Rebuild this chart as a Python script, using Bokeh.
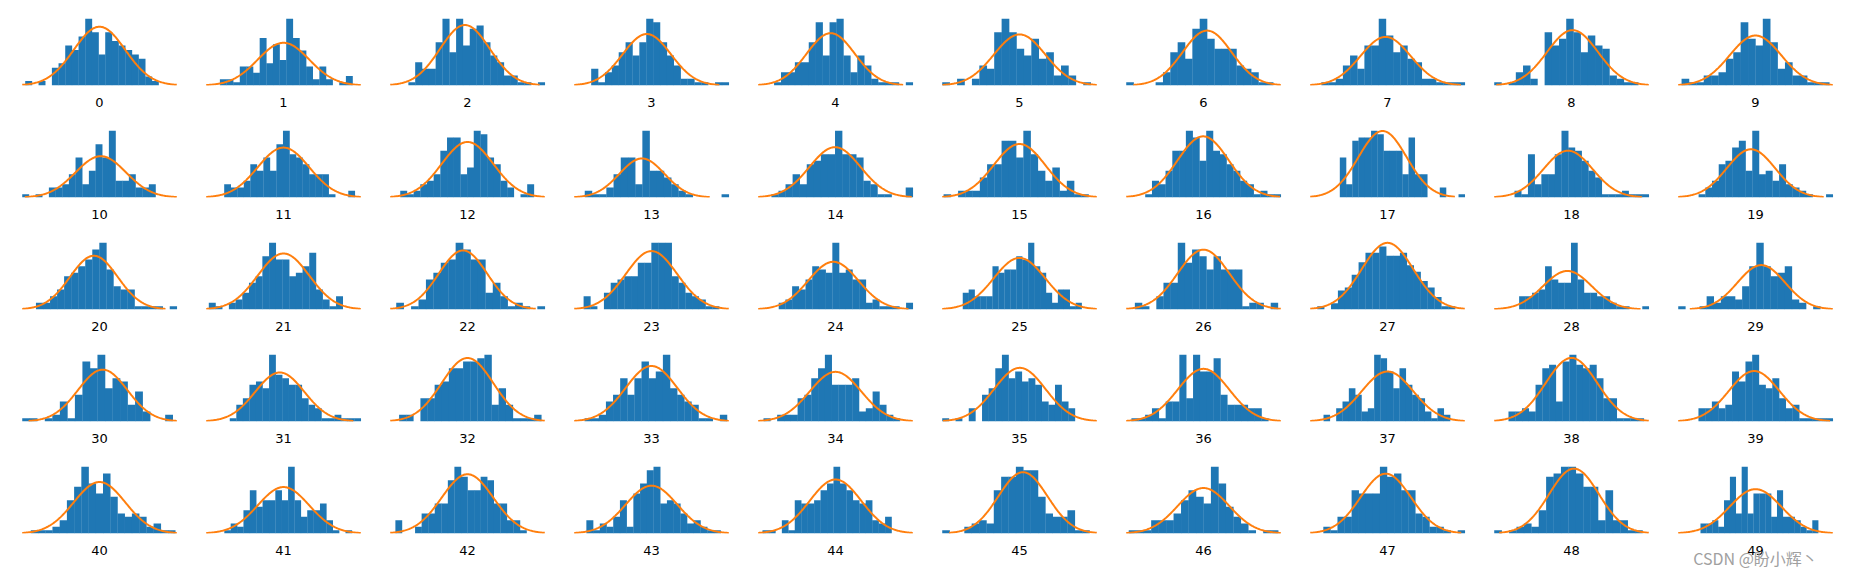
import numpy as np
from bokeh.plotting import figure
from bokeh.layouts import gridplot
from bokeh.models import Range1d, FixedTicker, LinearAxis, ColumnDataSource
from bokeh.embed import file_html
from bokeh.resources import INLINE

# bin counts (20 equal-width bins spanning each sample's min..max)
hist_00 = [1,0,1,0,4,5,9,8,11,15,12,7,12,10,9,8,7,6,2,1]
hist_01 = [2,2,1,6,6,4,15,7,13,8,21,15,11,6,2,6,2,0,1,3]
hist_02 = [1,7,5,5,13,20,10,20,12,17,18,13,9,7,3,3,1,1,0,1]
hist_03 = [5,1,4,6,10,13,9,13,20,19,13,9,6,2,2,1,1,0,1,1]
hist_04 = [1,4,4,7,7,13,19,9,19,20,9,4,9,6,2,1,1,1,0,1]
hist_05 = [1,0,2,0,2,6,5,16,20,16,11,9,14,8,10,3,6,3,0,1]
hist_06 = [1,0,0,0,1,4,10,13,8,17,20,14,11,11,11,6,5,4,1,1]
hist_07 = [1,1,2,6,9,5,12,12,20,15,10,12,8,7,2,2,1,1,1,1]
hist_08 = [1,0,1,4,6,2,0,16,12,14,20,16,10,15,12,11,3,2,1,1]
hist_09 = [2,1,1,3,3,4,8,10,19,14,12,20,13,5,7,3,3,1,1,1]
hist_10 = [1,0,1,0,3,3,4,7,12,4,8,16,12,20,5,5,7,3,3,4]
hist_11 = [4,3,3,5,10,8,12,8,16,20,13,12,10,7,7,7,1,0,0,2]
hist_12 = [2,1,2,4,5,7,14,18,18,7,9,20,19,12,10,5,3,0,1,4]
hist_13 = [2,1,1,3,7,12,12,4,20,8,8,6,4,2,1,0,0,0,0,1]
hist_14 = [1,2,4,7,4,10,11,13,13,20,13,13,12,5,4,1,1,0,0,3]
hist_15 = [1,0,2,2,2,6,10,10,17,17,12,20,13,8,5,9,2,5,1,1]
hist_16 = [1,5,4,8,14,14,20,18,11,20,14,13,10,8,5,4,1,2,1,1]
hist_17 = [12,4,17,18,18,20,19,14,14,14,7,18,7,7,0,0,3,0,0,1]
hist_18 = [2,1,13,4,7,7,13,20,15,14,11,8,6,1,1,1,2,1,1,1]
hist_19 = [1,3,5,10,11,15,17,8,20,7,8,5,10,4,3,2,1,0,0,1]
hist_20 = [2,2,4,6,10,11,13,15,18,20,12,7,6,6,1,1,1,1,0,1]
hist_21 = [2,1,0,2,3,5,8,10,16,20,15,15,10,11,13,17,6,3,1,4]
hist_22 = [2,0,1,3,9,11,14,15,20,18,15,15,5,8,4,1,2,1,0,1]
hist_23 = [4,1,0,5,8,9,10,10,14,14,20,20,20,10,8,5,4,3,1,1]
hist_24 = [2,3,7,6,9,13,12,11,20,11,12,9,9,2,3,1,1,1,0,2]
hist_25 = [5,6,4,4,4,13,11,12,12,16,15,20,13,11,5,2,6,6,1,2]
hist_26 = [2,1,0,4,8,8,20,14,18,16,12,16,12,12,12,1,2,2,0,2]
hist_27 = [1,0,2,6,7,11,15,18,18,20,17,17,18,14,12,9,7,4,1,1]
hist_28 = [4,4,5,6,13,9,8,8,20,9,5,5,4,4,2,1,1,0,0,1]
hist_29 = [1,0,0,1,4,2,4,4,3,7,13,20,13,10,11,13,3,2,0,1]
hist_30 = [1,1,0,1,2,6,1,8,18,16,20,10,13,12,5,9,3,0,0,2]
hist_31 = [1,5,7,11,12,10,20,14,13,11,11,7,5,4,1,1,2,1,1,1]
hist_32 = [2,2,0,7,7,11,12,16,16,18,18,19,20,5,10,5,1,1,1,2]
hist_33 = [1,1,2,6,8,13,8,13,18,13,15,20,10,8,6,5,1,1,0,2]
hist_34 = [1,0,2,2,2,7,8,13,16,20,11,11,11,13,3,4,9,5,2,1]
hist_35 = [1,0,1,0,4,0,8,10,16,20,13,15,12,13,11,6,5,11,6,4]
hist_36 = [1,1,2,4,1,6,6,20,7,20,15,15,19,8,5,5,5,4,4,1]
hist_37 = [2,0,4,6,10,8,3,4,20,19,15,10,16,11,8,7,3,1,4,2]
hist_38 = [3,3,4,3,11,16,17,6,18,20,17,16,17,13,7,7,1,1,1,1]
hist_39 = [4,4,6,4,5,15,12,18,20,11,10,13,7,4,5,1,1,1,1,1]
hist_40 = [1,1,1,2,4,10,14,20,15,12,18,11,6,5,6,5,2,3,1,1]
hist_41 = [1,3,2,7,13,8,10,10,13,10,20,10,5,7,7,9,4,1,0,1]
hist_42 = [4,0,0,2,6,6,9,9,16,20,17,13,13,17,16,9,9,4,4,1]
hist_43 = [4,1,3,2,5,10,2,12,15,19,20,9,10,9,6,3,4,2,1,1]
hist_44 = [1,1,0,4,1,10,9,9,10,13,15,20,15,13,10,9,10,4,3,5]
hist_45 = [1,0,0,2,3,4,3,13,17,17,20,19,19,11,6,5,5,7,1,1]
hist_46 = [1,1,1,4,4,4,6,10,13,11,9,20,15,8,5,3,1,0,1,1]
hist_47 = [2,1,5,5,13,12,12,12,20,17,18,13,13,6,5,2,2,1,0,1]
hist_48 = [1,0,1,2,3,2,7,17,18,20,20,18,14,14,4,13,4,4,1,1]
hist_49 = [3,3,4,2,10,17,6,20,6,12,12,12,5,13,5,5,4,2,1,4]

panel_labels = [str(i) for i in range(50)]
watermark = "CSDN @盼小辉丶"

all_hists = [globals()["hist_%02d" % i] for i in range(50)]

BAR = "#1f77b4"
CURVE = "#ff7f0e"
NCOLS = 10
FW, FH = 170, 70


def blank_axis(ax):
    ax.ticker = FixedTicker(ticks=[])
    ax.axis_line_color = None
    ax.major_tick_line_color = None
    ax.minor_tick_line_color = None
    ax.major_tick_out = 0
    ax.major_tick_in = 0
    ax.major_label_standoff = 0
    ax.axis_label_text_font_style = "normal"


figs = []
for i, counts in enumerate(all_hists):
    r, c = divmod(i, NCOLS)
    counts = np.asarray(counts, dtype=float)
    nb = len(counts)
    n = counts.sum()
    centers = np.arange(nb) + 0.5
    mu = (counts * centers).sum() / n
    var = (counts * (centers - mu) ** 2).sum() / n + 1.0 / 12.0
    sigma = np.sqrt(var)
    dens = counts / n
    xs = np.linspace(mu - 3 * sigma, mu + 3 * sigma, 200)
    pdf = np.exp(-0.5 * ((xs - mu) / sigma) ** 2) / (sigma * np.sqrt(2 * np.pi))

    lo = min(0.0, xs[0]); hi = max(float(nb), xs[-1])
    pad = 0.05 * (hi - lo)
    x0, x1 = lo - pad, hi + pad
    ytop = 1.05 * max(dens.max(), pdf.max())

    p = figure(frame_width=FW, frame_height=FH,
               min_border_left=14 if c == 0 else 7, min_border_right=7,
               min_border_top=15 if r == 0 else 7, min_border_bottom=35,
               x_range=Range1d(x0, x1), y_range=Range1d(0, ytop),
               output_backend="svg", toolbar_location=None,
               background_fill_color="white", border_fill_color="white")
    p.outline_line_color = None
    p.grid.visible = False
    p.yaxis.visible = False
    ax = p.xaxis[0]
    blank_axis(ax)
    ax.axis_label = panel_labels[i]
    ax.axis_label_text_font = "DejaVu Sans"
    ax.axis_label_text_font_size = "13px"
    ax.axis_label_text_color = "black"
    ax.axis_label_standoff = 12

    keep = counts > 0
    edges = np.arange(nb + 1, dtype=float)
    # tiny overlap of neighbouring bars hides anti-aliasing seams
    src = ColumnDataSource(dict(left=edges[:-1][keep], right=edges[1:][keep] + 0.04,
                                top=dens[keep]))
    p.quad(left="left", right="right", bottom=0, top="top", source=src,
           fill_color=BAR, line_color=None)
    p.line(xs, pdf, line_color=CURVE, line_width=2)

    if i == 49:
        # watermark: an extra blank axis whose bounds centre its label where the
        # reference shows it
        span = x1 - x0
        wm = LinearAxis(bounds=(x0 + 56.0 / FW * span, x0 + 186.0 / FW * span))
        blank_axis(wm)
        wm.axis_label = watermark
        wm.axis_label_text_font = "Noto Sans CJK SC"
        wm.axis_label_text_font_size = "16px"
        wm.axis_label_text_color = "#a0a0a0"
        wm.axis_label_standoff = -12
        p.add_layout(wm, "below")
    figs.append(p)

grid = gridplot(figs, ncols=NCOLS, toolbar_location=None)
open("out.html", "w").write(file_html(grid, INLINE))
